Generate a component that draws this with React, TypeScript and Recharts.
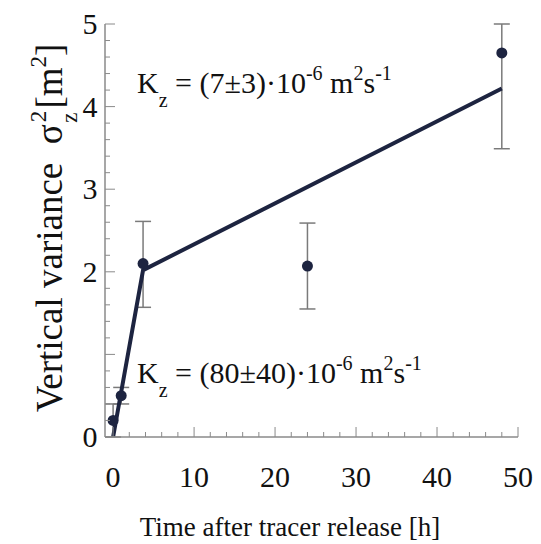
import {
  ComposedChart,
  Customized,
  ErrorBar,
  Line,
  Scatter,
  XAxis,
  YAxis,
} from "recharts";

// measured points: hours after release vs sigma_z^2 [m^2], err = [low, high]
const pointHours = [0, 1, 3.7, 24, 48];
const pointVariance = [0.2, 0.5, 2.1, 2.07, 4.65];
const pointErrors: [number, number][] = [
  [0.2, 0.2],
  [0.1, 0.1],
  [0.53, 0.51],
  [0.52, 0.52],
  [1.16, 0.35],
];

// two-slope fit line
const fitHours = [0, 3.7, 48];
const fitVariance = [0, 2.02, 4.22];

const xTicks = [0, 2, 4, 6, 8, 10, 12, 14, 16, 18, 20, 22, 24, 26, 28, 30, 32, 34, 36, 38, 40, 42, 44, 46, 48, 50];
const xLabels = [0, 10, 20, 30, 40, 50];
const yTicks = [0, 0.2, 0.4, 0.6, 0.8, 1, 1.2, 1.4, 1.6, 1.8, 2, 2.2, 2.4, 2.6, 2.8, 3, 3.2, 3.4, 3.6, 3.8, 4, 4.2, 4.4, 4.6, 4.8, 5];
const yLabels = [0, 2, 3, 4, 5];

const points = pointHours.map((x, i) => ({ x, y: pointVariance[i], err: pointErrors[i] }));
const fit = fitHours.map((x, i) => ({ x, y: fitVariance[i] }));

const FONT = "'Liberation Serif', 'Times New Roman', serif";
const INK = "#1d2440";
const FRAME = "#8a8a8a";

const isMajor = (v: number, step: number) => Math.abs(v / step - Math.round(v / step)) < 1e-6;

function BottomTick(p: any) {
  const v = p.payload.value;
  const major = isMajor(v, 10);
  return (
    <g>
      <line x1={p.x} x2={p.x} y1={p.y} y2={p.y - (major ? 10 : 5)} stroke={FRAME} />
      {xLabels.includes(v) && (
        <text x={p.x} y={p.y + 50} textAnchor="middle" fontSize={30} fontFamily={FONT} fill="#111">
          {v}
        </text>
      )}
    </g>
  );
}

function TopTick(p: any) {
  const major = isMajor(p.payload.value, 10);
  return <line x1={p.x} x2={p.x} y1={p.y} y2={p.y + (major ? 10 : 5)} stroke={FRAME} />;
}

function LeftTick(p: any) {
  const v = p.payload.value;
  const major = isMajor(v, 1);
  const label = yLabels.find((l) => Math.abs(l - v) < 1e-6);
  return (
    <g>
      <line x1={p.x} x2={p.x + (major ? 10 : 5)} y1={p.y} y2={p.y} stroke={FRAME} />
      {label !== undefined && (
        <text x={p.x - 15} y={p.y + 10} textAnchor="middle" fontSize={30} fontFamily={FONT} fill="#111">
          {label}
        </text>
      )}
    </g>
  );
}

function RightTick(p: any) {
  const major = isMajor(p.payload.value, 1);
  return <line x1={p.x} x2={p.x - (major ? 10 : 5)} y1={p.y} y2={p.y} stroke={FRAME} />;
}

function Dot(p: any) {
  return <circle cx={p.cx} cy={p.cy} r={5.5} fill={INK} />;
}

function Texts() {
  return (
    <g fontFamily={FONT} fill="#111">
      <text x={137} y={93} fontSize={30}>
        K<tspan fontSize={20} dy={14}>z</tspan>
        <tspan dy={-14}> = (7±3)·10</tspan>
        <tspan fontSize={20} dy={-13}>-6</tspan>
        <tspan dy={13}> m</tspan>
        <tspan fontSize={20} dy={-13}>2</tspan>
        <tspan dy={13}>s</tspan>
        <tspan fontSize={20} dy={-13}>-1</tspan>
      </text>
      <text x={137} y={383} fontSize={30}>
        K<tspan fontSize={20} dy={14}>z</tspan>
        <tspan dy={-14}> = (80±40)·10</tspan>
        <tspan fontSize={20} dy={-13}>-6</tspan>
        <tspan dy={13}> m</tspan>
        <tspan fontSize={20} dy={-13}>2</tspan>
        <tspan dy={13}>s</tspan>
        <tspan fontSize={20} dy={-13}>-1</tspan>
      </text>
      <text x={290} y={536} textAnchor="middle" fontSize={27}>
        Time after tracer release [h]
      </text>
      <text x={62} y={228} textAnchor="middle" fontSize={37} transform="rotate(-90 62 228)">
        Vertical variance{"\u2002"}σ
        <tspan fontSize={23} dx={2} dy={-16}>2</tspan>
        <tspan fontSize={23} dx={-12} dy={31}>z</tspan>
        <tspan dx={4} dy={-15}>[m</tspan>
        <tspan fontSize={23} dy={-16}>2</tspan>
        <tspan dy={16}>]</tspan>
      </text>
    </g>
  );
}

export default function App() {
  return (
    <div style={{ position: "absolute", left: 0, top: 0, width: 541, height: 544, background: "#fff" }}>
      <ComposedChart width={541} height={544} margin={{ top: 24, right: 23, bottom: 0, left: 0 }}>
        <XAxis
          type="number"
          dataKey="x"
          domain={[-1, 50]}
          allowDataOverflow
          ticks={xTicks}
          interval={0}
          height={107}
          tickSize={0}
          tickMargin={0}
          tick={<BottomTick />}
          axisLine={{ stroke: FRAME, strokeWidth: 1.5 }}
        />
        <XAxis
          xAxisId="top"
          orientation="top"
          type="number"
          dataKey="x"
          domain={[-1, 50]}
          allowDataOverflow
          ticks={xTicks}
          interval={0}
          height={0}
          tickSize={0}
          tickMargin={0}
          tick={<TopTick />}
          axisLine={{ stroke: FRAME, strokeWidth: 1.5 }}
        />
        <YAxis
          type="number"
          dataKey="y"
          domain={[0, 5]}
          allowDataOverflow
          ticks={yTicks}
          interval={0}
          width={105}
          tickSize={0}
          tickMargin={0}
          tick={<LeftTick />}
          axisLine={{ stroke: FRAME, strokeWidth: 1.5 }}
        />
        <YAxis
          yAxisId="right"
          orientation="right"
          type="number"
          domain={[0, 5]}
          allowDataOverflow
          ticks={yTicks}
          interval={0}
          width={0}
          tickSize={0}
          tickMargin={0}
          tick={<RightTick />}
          axisLine={{ stroke: FRAME, strokeWidth: 1.5 }}
        />
        <Scatter data={points} dataKey="y" shape={<Dot />} isAnimationActive={false}>
          <ErrorBar dataKey="err" direction="y" width={8} stroke="#7a7a7a" strokeWidth={1.5} />
        </Scatter>
        <Line
          data={fit}
          dataKey="y"
          type="linear"
          stroke={INK}
          strokeWidth={4}
          dot={false}
          isAnimationActive={false}
        />
        <Customized component={Texts} />
      </ComposedChart>
    </div>
  );
}
